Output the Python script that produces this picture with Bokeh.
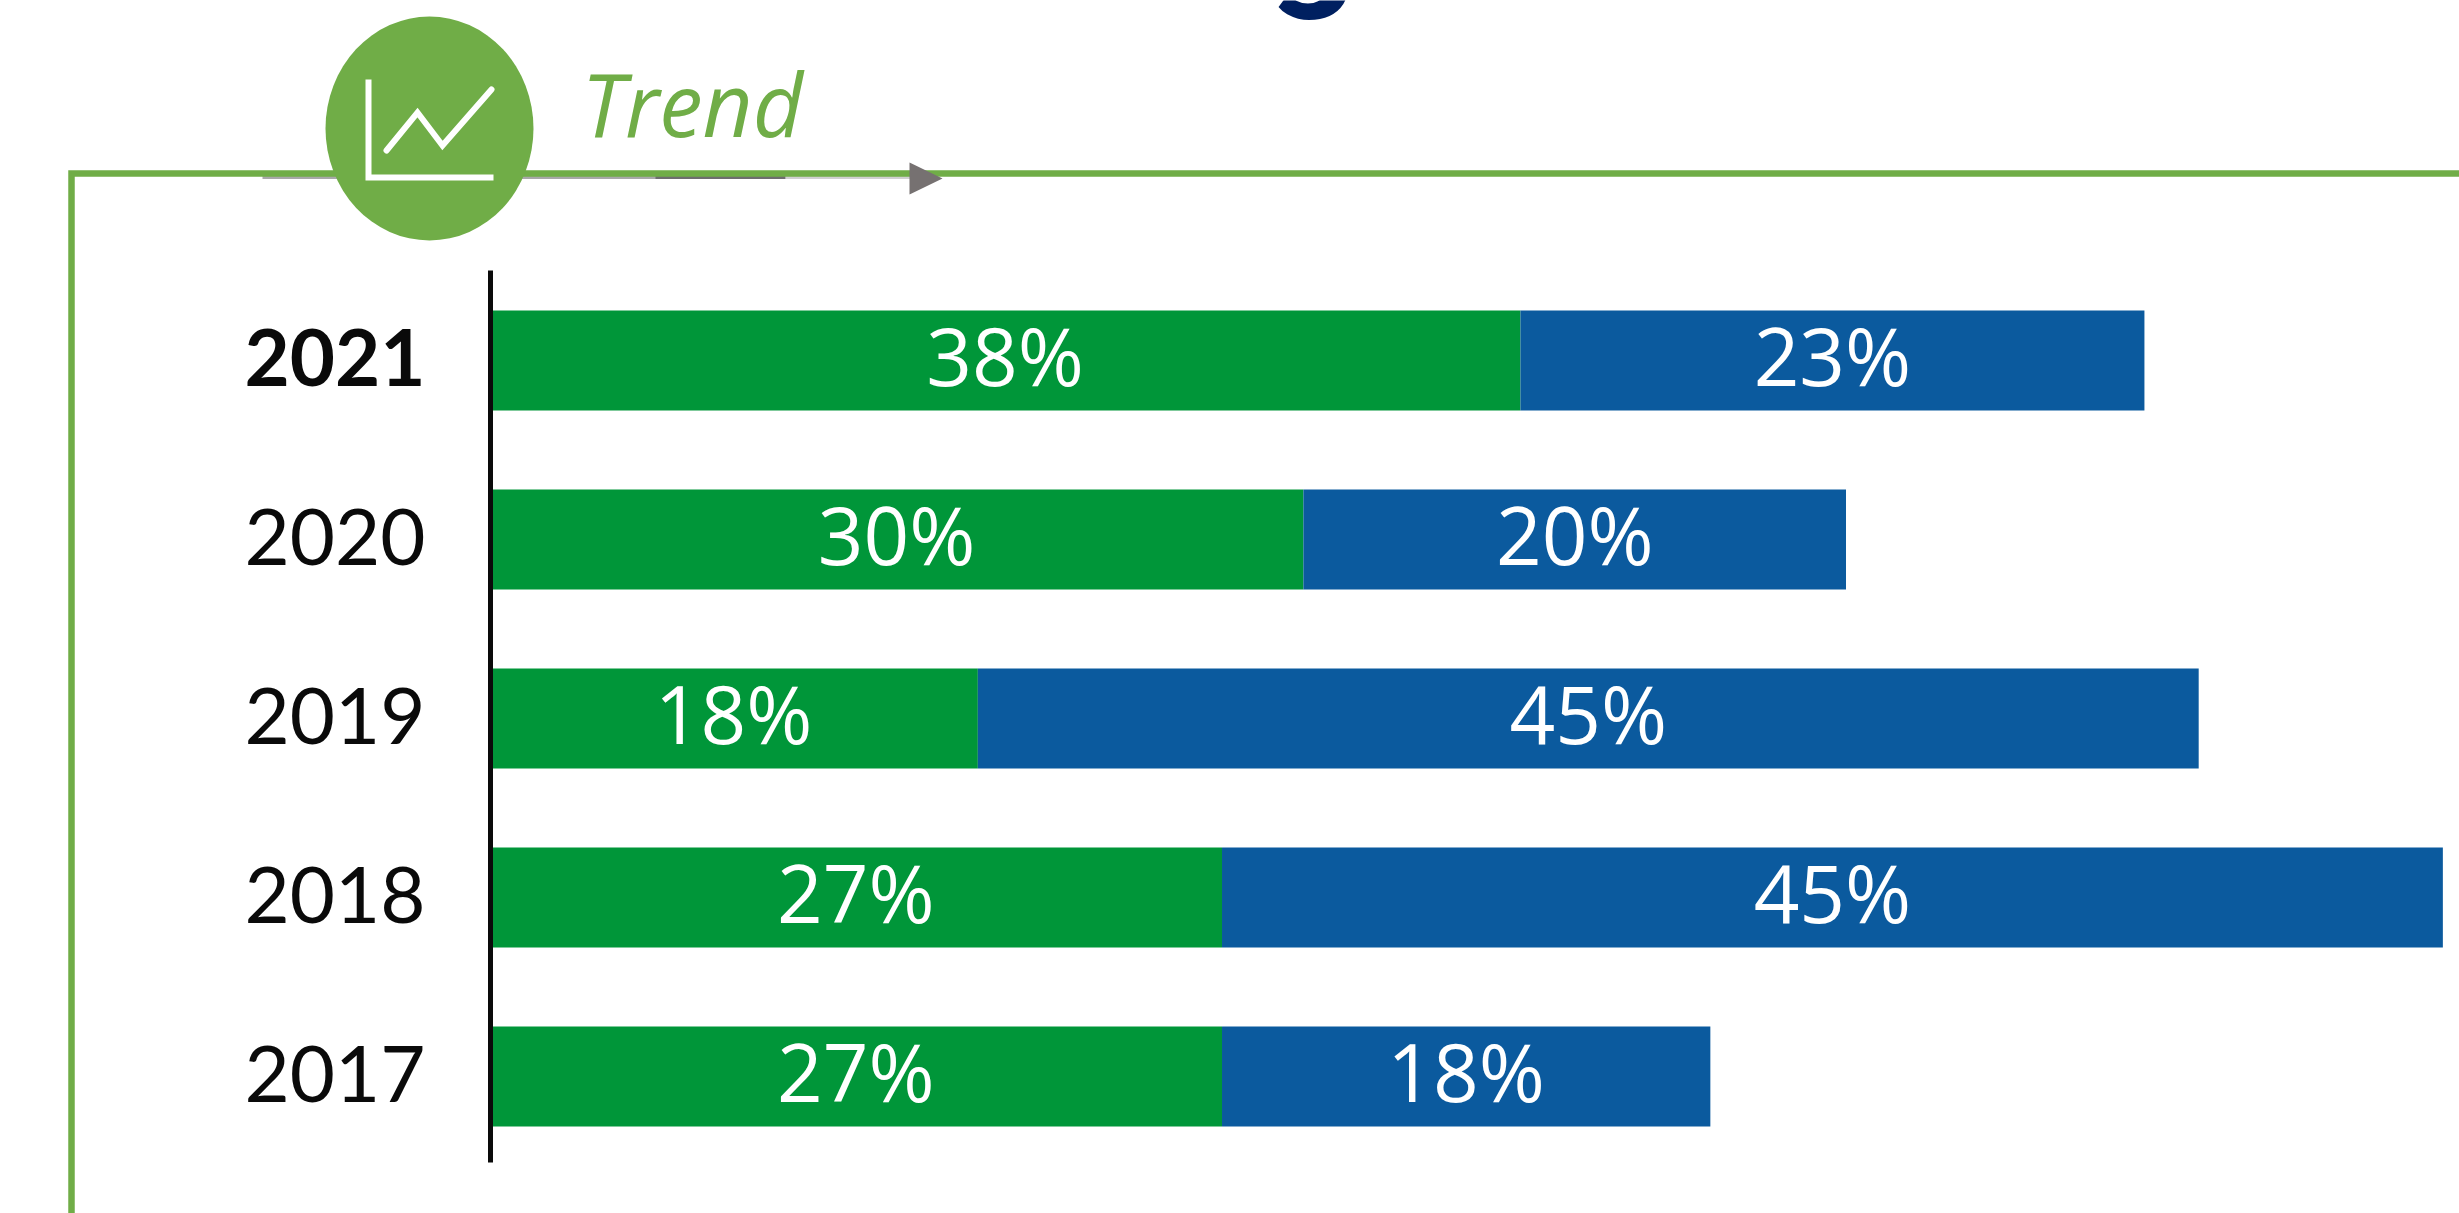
from bokeh.plotting import figure
from bokeh.models import Range1d, ColumnDataSource
from bokeh.core.properties import value
from bokeh.embed import file_html
from bokeh.resources import INLINE

years = [2021, 2020, 2019, 2018, 2017]
year_labels = ["2021", "2020", "2019", "2018", "2017"]
green_share = [38, 30, 18, 27, 27]
blue_share = [23, 20, 45, 45, 18]
section_title = "Trend"

W, H = 2459, 1213
PX_X = 27.13   # pixels per percent
PX_Y = 179.0   # pixels per year
ORIGIN_X = 489
YEAR_2021_Y = 360

x_lo = -ORIGIN_X / PX_X
x_hi = x_lo + W / PX_X
y_hi = 2021 + YEAR_2021_Y / PX_Y
y_lo = y_hi - H / PX_Y


def dx(px):
    return x_lo + px / PX_X


def dy(px):
    return y_hi - px / PX_Y


GREEN = "#009639"
BLUE = "#0B5A9E"
FRAME = "#70AD47"

p = figure(width=W, height=H, output_backend="svg", toolbar_location=None,
           x_range=Range1d(x_lo, x_hi), y_range=Range1d(y_lo, y_hi),
           x_axis_location=None, y_axis_location=None, min_border=0,
           outline_line_color=None, background_fill_color="white",
           border_fill_color="white")
p.grid.visible = False

src = ColumnDataSource(dict(
    y=years, ylab=year_labels, g=green_share, b=blue_share,
    stack=[g + b for g, b in zip(green_share, blue_share)],
    gmid=[g / 2 for g in green_share],
    bmid=[g + b / 2 for g, b in zip(green_share, blue_share)],
    glab=[f"{v}%" for v in green_share],
    blab=[f"{v}%" for v in blue_share],
    zero=[0] * len(years),
))

# clipped headline descender at the very top
p.text(x=[dx(1312)], y=[dy(-66)], text=["g"], text_font=value("Roboto"),
       text_font_size="155px", text_font_style="bold", text_color="#002060",
       text_align="center", text_baseline="alphabetic")

# grey arrow behind the frame
p.line([dx(262), dx(915)], [dy(176.5), dy(176.5)], line_color="#A8A8A8", line_width=4)
p.line([dx(655), dx(785)], [dy(177), dy(177)], line_color="#6E6E6E", line_width=3)
p.line([dx(785), dx(915)], [dy(177), dy(177)], line_color="#D0D0D0", line_width=3)

# frame
p.line([dx(71), dx(71), dx(2480)], [dy(1240), dy(173), dy(173)],
       line_color=FRAME, line_width=6.5, line_join="miter")
p.patch([dx(909), dx(942), dx(909)], [dy(162), dy(178), dy(194)],
        fill_color="#767171", line_color=None)

# badge
p.ellipse(x=[dx(429)], y=[dy(128)], width=208, height=224,
          width_units="screen", height_units="screen",
          fill_color=FRAME, line_color=None)
p.line([dx(368), dx(368), dx(493)], [dy(79), dy(177), dy(177)],
       line_color="white", line_width=6, line_join="miter")
p.line([dx(386), dx(417), dx(442), dx(491)], [dy(150), dy(112), dy(145), dy(89)],
       line_color="white", line_width=6, line_join="miter", line_cap="round")

p.text(x=[dx(581)], y=[dy(102)], text=[section_title], text_font=value("Open Sans"),
       text_font_size="87px", text_font_style="italic", text_color=FRAME,
       text_align="left", text_baseline="alphabetic")

# bars
bar_h = 100 / PX_Y
p.hbar(y="y", left="zero", right="g", height=bar_h, source=src,
       fill_color=GREEN, line_color=None)
p.hbar(y="y", left="g", right="stack", height=bar_h, source=src,
       fill_color=BLUE, line_color=None)

# vertical axis line
p.line([dx(490), dx(490)], [dy(270), dy(1162)], line_color="#0A0A0A", line_width=5)

# value labels
for col, mid in (("glab", "gmid"), ("blab", "bmid")):
    p.text(x=mid, y="y", text=col, source=src, text_font=value("Open Sans"),
           text_font_size="80px", text_color="white", text_align="center",
           text_baseline="middle", y_offset=-6)

# year labels
for style in ("bold", "normal"):
    idx = [i for i, y in enumerate(years) if (y == 2021) == (style == "bold")]
    p.text(x=[dx(425)] * len(idx), y=[years[i] for i in idx],
           text=[year_labels[i] for i in idx], text_font=value("Lato"),
           text_font_size="78px", text_font_style=style, text_color="#0A0A0A",
           text_align="right", text_baseline="middle", y_offset=-3)

open("out.html", "w").write(file_html(p, INLINE))
